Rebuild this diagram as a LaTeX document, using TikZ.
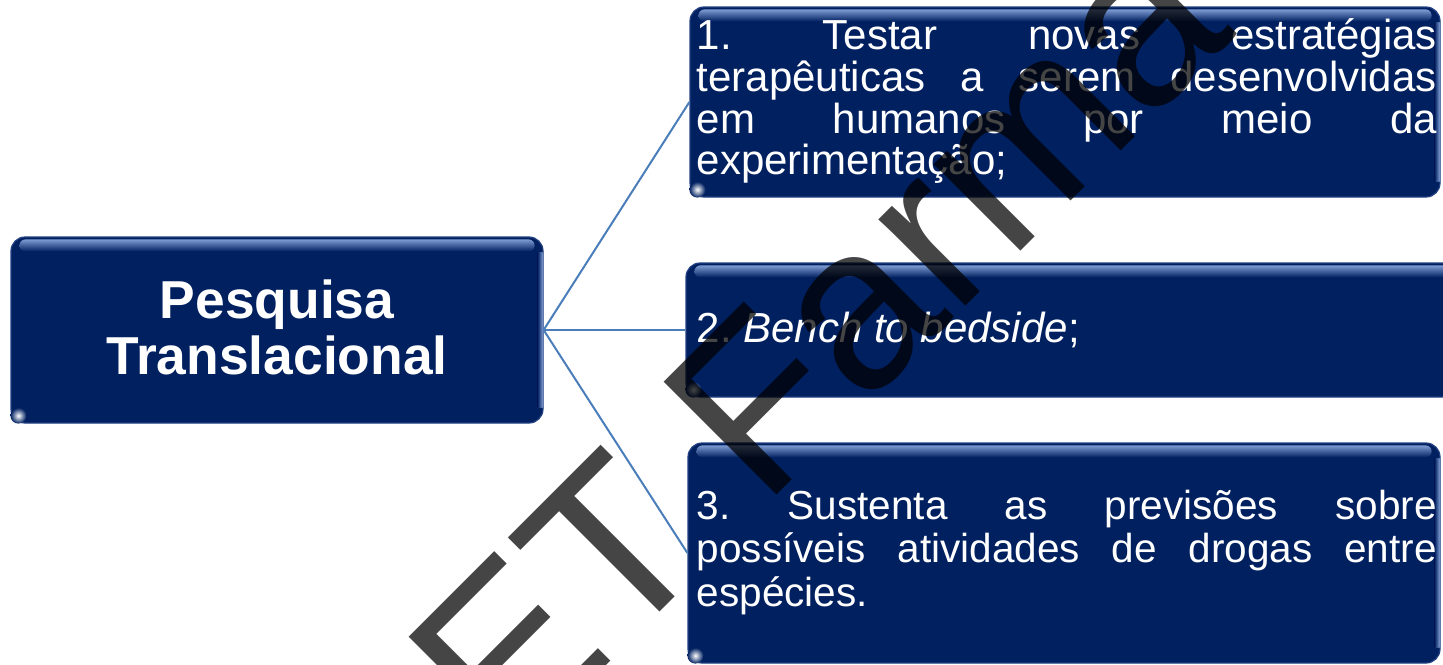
\documentclass[tikz,border=0pt]{standalone}
\usepackage{fontspec}
\setmainfont{Liberation Sans}
\newfontfamily\markfont{Liberation Sans}
\usetikzlibrary{calc,positioning}
\definecolor{navy}{RGB}{0,32,96}
\definecolor{navyedge}{RGB}{35,65,130}
\definecolor{glosstop}{RGB}{125,155,210}
\definecolor{linkblue}{RGB}{74,126,187}
\tikzset{
  navybox/.style={draw=navyedge, fill=navy, line width=0.6pt, rounded corners=7pt, inner sep=0pt},
  gloss/.style={top color=glosstop, bottom color=navy, draw=none, rounded corners=3pt},
  sidegloss/.style={left color=navy, right color=glosstop, draw=none},
  glint/.style={inner color=white, outer color=navy, draw=none},
  link/.style={draw=linkblue, line width=1pt},
  boxtext/.style={text=white, inner sep=0pt, anchor=base west},
  markstyle/.style={font=\markfont\fontsize{116}{120}\selectfont, text=black, text opacity=0.73,
    rotate=45, anchor=base west, inner sep=0pt},
}
\newcommand{\fillline}[1]{\makebox[\linewidth][s]{#1}}
\newcommand{\glossbox}[1]{%
  \path[gloss] ($(#1.north west)+(9,3)$) rectangle ($(#1.north east)+(-9,15)$);
  \path[sidegloss] ($(#1.north east)+(-6,16)$) rectangle ($(#1.south east)+(-1,-16)$);
  \path[glint] ($(#1.south west)+(8,-8)$) circle (4pt);
}

\begin{document}
\frenchspacing
\begin{tikzpicture}[x=0.5pt,y=-0.5pt]
    \fill[white] (0,0) rectangle (1443,664);
    \useasboundingbox (0,0) rectangle (1443,664);

    % boxes
    \node[navybox, minimum width=266pt, minimum height=93pt] (pesq) at (277,330) {};
    \node[navybox, minimum width=375pt, minimum height=95pt] (step1) at (1065,102) {};
    \node[navybox, minimum width=390pt, minimum height=67pt] (step2) at (1076,330) {};
    \node[navybox, minimum width=376pt, minimum height=110pt] (step3) at (1064,553) {};
    \glossbox{pesq}
    \glossbox{step1}
    \glossbox{step2}
    \glossbox{step3}

    \draw[link] (pesq.east) -- (step1.west);
    \draw[link] (pesq.east) -- (step2.west);
    \draw[link] (pesq.east) -- (step3.west);

    % texts
    \node[boxtext, anchor=base, font=\bfseries\fontsize{26.7}{28}\selectfont] (pesqtxt)
      at ($(pesq.north)+(0,82)$) {\parbox[t]{300pt}{\centering Pesquisa\\Translacional}};
    \node[boxtext, font=\fontsize{21}{20.9}\selectfont] (step1txt) at ($(step1.north west)+(7,43)$)
      {\parbox[t]{370pt}{\fillline{1. Testar novas estratégias}\\
        \fillline{terapêuticas a serem desenvolvidas}\\
        \fillline{em humanos por meio da}\\
        experimentação;}};
    \node[boxtext, font=\fontsize{21}{24}\selectfont] (step2txt) at ($(step2.north west)+(11,80)$)
      {2. \textit{Bench to bedside};};
    \node[boxtext, font=\fontsize{20.25}{21.75}\selectfont] (step3txt) at ($(step3.north west)+(9,77)$)
      {\parbox[t]{370pt}{\fillline{3. Sustenta as previsões sobre}\\
        \fillline{possíveis atividades de drogas entre}\\
        espécies.}};

    % watermark
    \node[markstyle] (mark) at (508,764) {ET Farma};
\end{tikzpicture}
\end{document}
